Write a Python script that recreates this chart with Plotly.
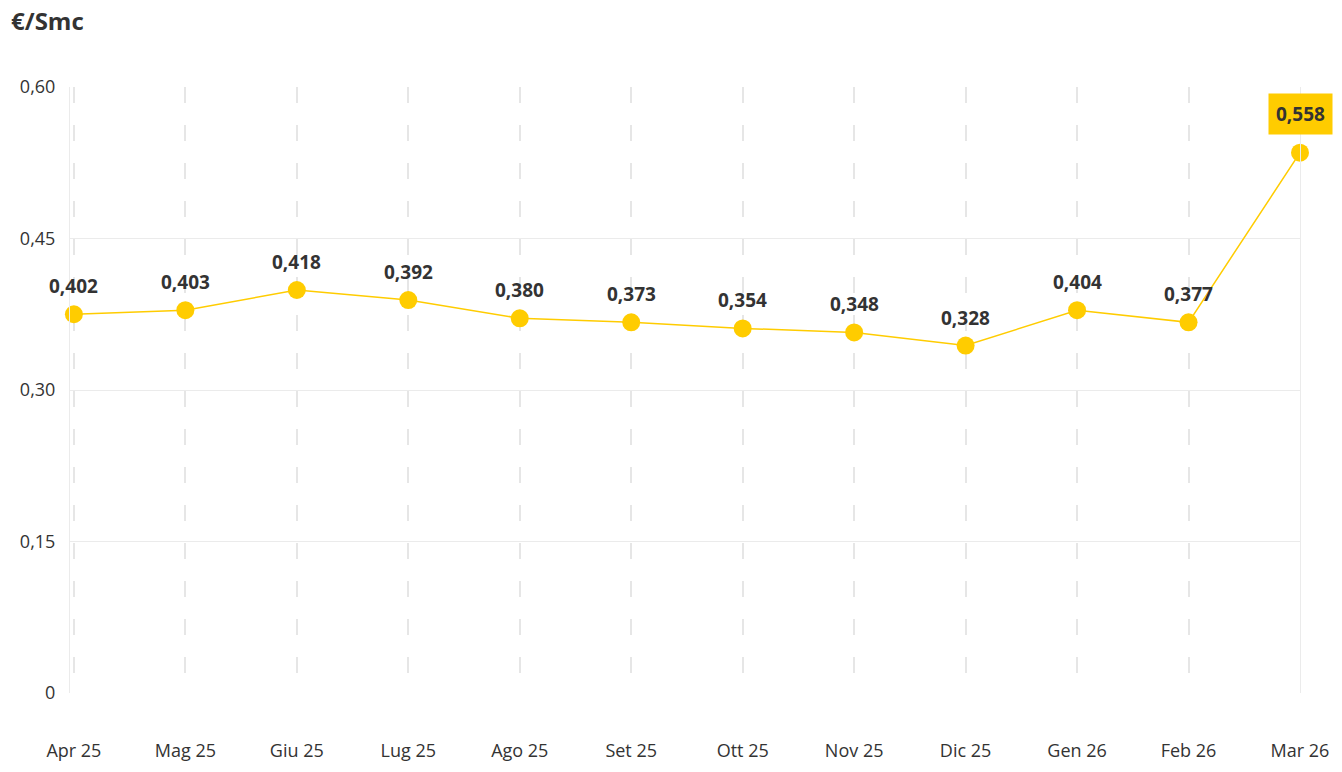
import plotly.graph_objects as go

months = ["Apr 25", "Mag 25", "Giu 25", "Lug 25", "Ago 25", "Set 25",
          "Ott 25", "Nov 25", "Dic 25", "Gen 26", "Feb 26", "Mar 26"]
# plotted positions
values = [0.375, 0.379, 0.399, 0.389, 0.371, 0.367,
          0.361, 0.357, 0.344, 0.379, 0.367, 0.535]
# printed labels
labels = ["0,402", "0,403", "0,418", "0,392", "0,380", "0,373",
          "0,354", "0,348", "0,328", "0,404", "0,377", "0,558"]
y_ticks = [0, 0.15, 0.30, 0.45, 0.60]
y_tick_text = ["0", "0,15", "0,30", "0,45", "0,60"]

yellow = "#FFCC00"
idx = list(range(len(months)))

fig = go.Figure()
fig.add_trace(go.Scatter(
    x=idx, y=values, mode="lines+markers",
    line=dict(color=yellow, width=1.5),
    marker=dict(color=yellow, size=18),
    hoverinfo="skip", cliponaxis=False,
))

for i, (v, t) in enumerate(zip(values, labels)):
    last = i == len(values) - 1
    fig.add_annotation(
        x=i, y=v, text="<b>%s</b>" % t, showarrow=False,
        yshift=39 if last else 28,
        bgcolor=yellow if last else "rgba(0,0,0,0)",
        borderpad=7 if last else 0,
        font=dict(size=19, color="#333333", family="Open Sans"),
    )

fig.add_annotation(
    text="<b>€/Smc</b>", xref="paper", yref="paper", x=-0.05, y=1.14,
    xanchor="left", yanchor="top", showarrow=False,
    font=dict(size=24, color="#333333"),
)

fig.update_layout(
    width=1342, height=772,
    margin=dict(l=58, r=50, t=79, b=87),
    plot_bgcolor="white", paper_bgcolor="white",
    showlegend=False,
    font=dict(family="Open Sans", size=18, color="#333333"),
)
fig.update_xaxes(
    range=[-0.035, 11], tickmode="array", tickvals=idx, ticktext=months,
    showgrid=True, gridcolor="#e6e6e6", griddash="16px,22px", gridwidth=1.5,
    zeroline=False, ticklabelstandoff=45, fixedrange=True,
)
fig.update_yaxes(
    range=[0, 0.60], tickmode="array", tickvals=y_ticks, ticktext=y_tick_text,
    showgrid=True, gridcolor="#ebebeb", zeroline=False,
    showline=True, linecolor="#ebebeb", mirror=True, ticklabelstandoff=10,
)
fig.write_html("out.html")
